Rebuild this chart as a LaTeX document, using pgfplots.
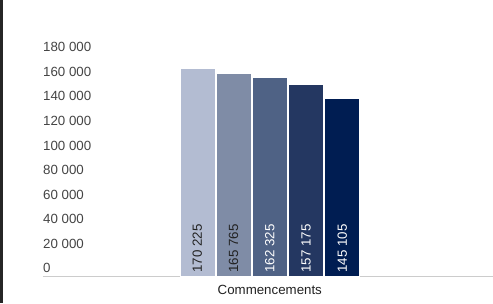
\documentclass[border=0pt]{standalone}
\usepackage{pgfplots}
\pgfplotsset{compat=1.18}
\usepackage{fontspec}
\setmainfont{Liberation Sans}
\definecolor{c1}{HTML}{B3BCD2}
\definecolor{c2}{HTML}{7F8CA6}
\definecolor{c3}{HTML}{4F6285}
\definecolor{c4}{HTML}{243761}
\definecolor{c5}{HTML}{001D52}
\definecolor{lbl}{HTML}{444444}
\definecolor{dark}{HTML}{222222}
\definecolor{base}{HTML}{CCCCCC}
\pgfplotsset{
  barlabel/.style={
    nodes near coords={\pgfmathprintnumber{\rawy}},
    visualization depends on={value \thisrow{y} \as \rawy},
    every node near coord/.append style={
      /utils/exec={\edef\bh{\fpeval{3.7-\rawy*220.8/180000}}},
      yshift=\bh pt, rotate=90, anchor=west, inner sep=0pt,
      font=\fontsize{13.3}{16}\selectfont, text=#1}
  }
}
\begin{document}
\begin{tikzpicture}[x=1pt,y=1pt]
\useasboundingbox (0,0) rectangle (493,303);
\fill[black!85] (0,0) rectangle (2.5,303);
\begin{axis}[
  at={(43pt,26.3pt)}, anchor=south west,
  scale only axis, width=450pt, height=220.8pt,
  xmin=-0.504, xmax=0.496, ymin=0, ymax=180000,
  ybar=1.2pt, bar width=35pt,
  axis x line*=bottom, axis y line*=left,
  y axis line style={draw=none},
  x axis line style={draw=base, line width=0.8pt},
  major tick length=0pt,
  ytick={0,20000,...,180000}, scaled y ticks=false,
  xtick={0}, xticklabels={Commencements},
  /pgf/number format/.cd, fixed, precision=0, 1000 sep={\ }, assume math mode=true,
  /pgfplots/.cd,
  yticklabel style={anchor=base west, inner sep=0pt, yshift=4pt,
    font=\fontsize{13.3}{16}\selectfont, text=lbl},
  xticklabel style={font=\fontsize{13.3}{16}\selectfont, text=dark, yshift=-4.5pt},
  clip=false,
]
\addplot[fill=c1, draw=white, line width=0.75pt, barlabel=dark] table {
x y
0 170225
};
\addplot[fill=c2, draw=white, line width=0.75pt, barlabel=dark] table {
x y
0 165765
};
\addplot[fill=c3, draw=white, line width=0.75pt, barlabel=white] table {
x y
0 162325
};
\addplot[fill=c4, draw=white, line width=0.75pt, barlabel=white] table {
x y
0 157175
};
\addplot[fill=c5, draw=white, line width=0.75pt, barlabel=white] table {
x y
0 145105
};
\end{axis}
\end{tikzpicture}
\end{document}
